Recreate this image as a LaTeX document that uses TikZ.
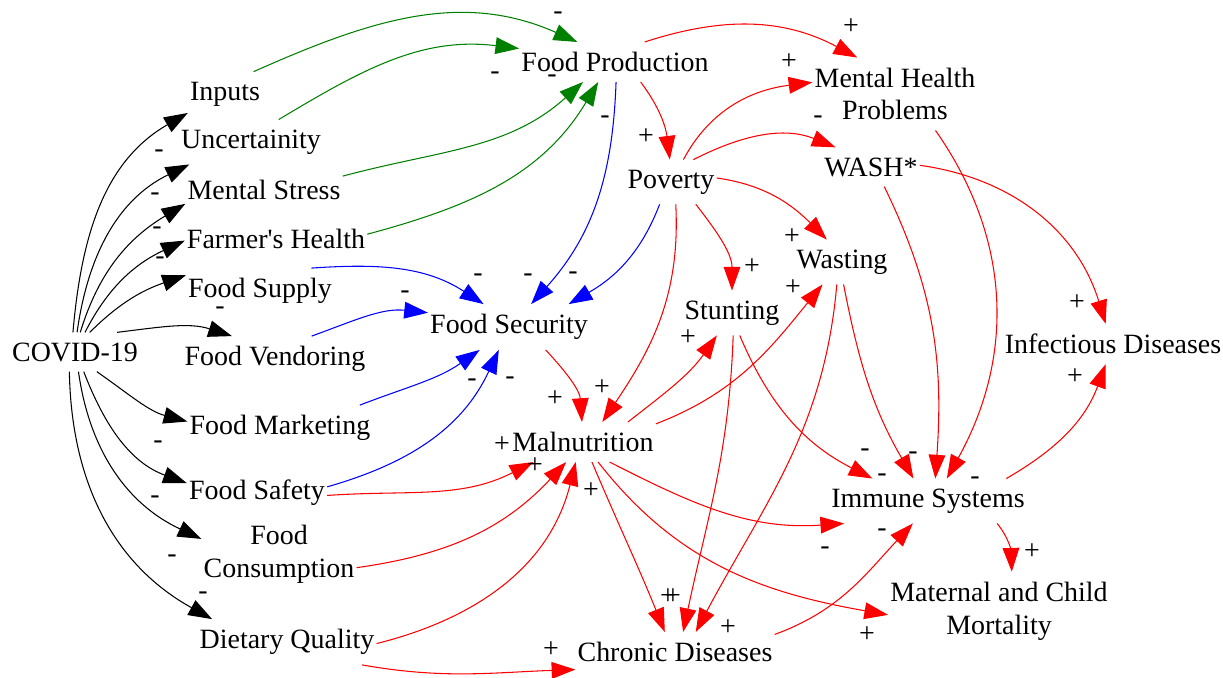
\documentclass[tikz,border=0pt]{standalone}
\usepackage{fontspec}
\setmainfont{Liberation Serif}
\usepackage{tikz}
\usetikzlibrary{arrows.meta}

\begin{document}
\begin{tikzpicture}[x=0.02cm,y=0.02cm,line width=0.6pt,
    >={Triangle[length=13.5pt,width=9.5pt]},
    var/.style={inner xsep=1pt,inner ysep=5.5pt,align=center,font=\fontsize{15.9}{18.7}\selectfont},
    sgn/.style={inner sep=0pt,font=\fontsize{15.9}{18.7}\selectfont},
    prod/.style={->,green!50!black},
    secu/.style={->,blue},
    hlth/.style={->,red}]
    \useasboundingbox (0,0) rectangle (1223,-678);
    \node[var] (cov)  at (75,-352)   {COVID-19};
    \node[var] (inp)  at (225,-94)   {Inputs};
    \node[var] (unc)  at (251,-142)  {Uncertainity};
    \node[var] (mst)  at (264,-190)  {Mental Stress};
    \node[var] (fhl)  at (276,-239)  {Farmer\textquotesingle s Health};
    \node[var] (fsu)  at (260,-291)  {Food Supply};
    \node[var] (fve)  at (275,-359)  {Food Vendoring};
    \node[var] (fma)  at (280,-428)  {Food Marketing};
    \node[var] (fsa)  at (257,-493)  {Food Safety};
    \node[var] (fco)  at (279,-554)  {Food\\Consumption};
    \node[var] (dq)   at (287,-642)  {Dietary Quality};
    \node[var] (fpr)  at (615,-62)   {Food Production};
    \node[var] (pov)  at (671,-182)  {Poverty};
    \node[var] (fse)  at (509,-327)  {Food Security};
    \node[var] (mal)  at (583,-442)  {Malnutrition};
    \node[var] (chr)  at (675,-652)  {Chronic Diseases};
    \node[var] (mhp)  at (895,-94)   {Mental Health\\Problems};
    \node[var] (wash) at (871,-167)  {WASH*};
    \node[var] (was)  at (842,-262)  {Wasting};
    \node[var] (stu)  at (732,-313)  {Stunting};
    \node[var] (inf)  at (1113,-344) {Infectious Diseases};
    \node[var] (imm)  at (928,-501)  {Immune Systems};
    \node[var] (mcm)  at (999,-611)  {Maternal and Child\\Mortality};

    \draw[->] (cov.96) to[out=85,in=210] (inp.207);
    \draw[->] (cov.84) to[out=82,in=206] (unc.200);
    \draw[->] (cov.75) to[out=73,in=211] (mst.190);
    \draw[->] (cov.63) to[out=63,in=205] (fhl.181);
    \draw[->] (cov.53) to[out=45,in=199] (fsu.168);
    \draw[->] (cov.25) to[out=7,in=162] (fve.152);
    \draw[->] (cov.318) to[out=-35,in=165] (fma.176);
    \draw[->] (cov.294) to[out=-69,in=160] (fsa.172);
    \draw[->] (cov.280) to[out=-82,in=155] (fco.169);
    \draw[->] (cov.254) to[out=-89,in=151] (dq.163);

    \draw[prod] (inp.38) to[out=24,in=156] (fpr.152);
    \draw[prod] (unc.39) to[out=31,in=173] (fpr.172);
    \draw[prod] (mst.10) to[out=15,in=222] (fpr.212);
    \draw[prod] (fhl.3) to[out=15,in=239] (fpr.230);

    \draw[secu] (fpr.273) to[out=268,in=48] (fse.46);
    \draw[secu] (pov.243) to[out=249,in=30] (fse.21);
    \draw[secu] (fsu.24) to[out=4,in=147] (fse.138);
    \draw[secu] (fve.32) to[out=20,in=174] (fse.170);
    \draw[secu] (fma.16) to[out=21,in=215] (fse.218);
    \draw[secu] (fsa.5) to[out=16,in=245] (fse.246);

    \draw[hlth] (fpr.322) to[out=-53,in=97] (pov.93);
    \draw[hlth] (fpr.34) to[out=18,in=152] (mhp.136);
    \draw[hlth] (pov.61) to[out=62,in=187] (mhp.172);
    \draw[hlth] (pov.45) to[out=27,in=158] (wash.151);
    \draw[hlth] (pov.5) to[out=-8,in=135] (was.124);
    \draw[hlth] (pov.318) to[out=-52,in=90] (stu.90);
    \draw[hlth] (pov.282) to[out=-87,in=56] (mal.46);
    \draw[hlth] (fse.328) to[out=-47,in=94] (mal.93);
    \draw[hlth] (mal.24) to[out=38,in=235] (stu.236);
    \draw[hlth] (mal.14) to[out=21,in=231] (was.229);
    \draw[hlth] (fsa.358) to[out=4,in=207] (mal.202);
    \draw[hlth] (fco.350) to[out=8,in=227] (mal.230);
    \draw[hlth] (dq.359) to[out=14,in=256] (mal.250);
    \draw[hlth] (dq.343) to[out=-10,in=182] (chr.190);
    \draw[hlth] (mal.294) to[out=-67,in=112] (chr.117);
    \draw[hlth] (stu.273) to[out=268,in=78] (chr.68);
    \draw[hlth] (was.257) to[out=265,in=62] (chr.44);
    \draw[hlth] (mal.323) to[out=-27,in=184] (imm.195);
    \draw[hlth] (mal.307) to[out=-52,in=170] (mcm.182);
    \draw[hlth] (chr.10) to[out=20,in=227] (imm.236);
    \draw[hlth] (stu.289) to[out=-67,in=153] (imm.158);
    \draw[hlth] (was.274) to[out=-79,in=120] (imm.123);
    \draw[hlth] (wash.304) to[out=-64,in=86] (imm.72);
    \draw[hlth] (mhp.318) to[out=-55,in=61] (imm.50);
    \draw[hlth] (wash.2) to[out=-8,in=107] (inf.110);
    \draw[hlth] (imm.16) to[out=30,in=250] (inf.250);
    \draw[hlth] (imm.342) to[out=-51,in=92] (mcm.72);

    \foreach \x/\y [count=\i] in {159/151,155/194,157/228,160/258,220/308,158/442,155/497,172/556,203/593,
        558/13,495/73,552/76,605/117,478/275,528/275,573/273,405/292,472/380,510/378,
        818/117,825/548,882/530,865/450,882/475,913/453,975/478}
        \node[sgn] (neg\i) at (\x,-\y-3) {-};
    \foreach \x/\y [count=\i] in {646/137,851/27,789/62,792/237,752/267,793/288,688/338,602/388,555/399,
        502/445,535/466,591/491,668/597,673/597,728/628,551/650,867/635,1077/303,1075/377,1032/552}
        \node[sgn] (pos\i) at (\x,-\y) {+};
\end{tikzpicture}
\end{document}
